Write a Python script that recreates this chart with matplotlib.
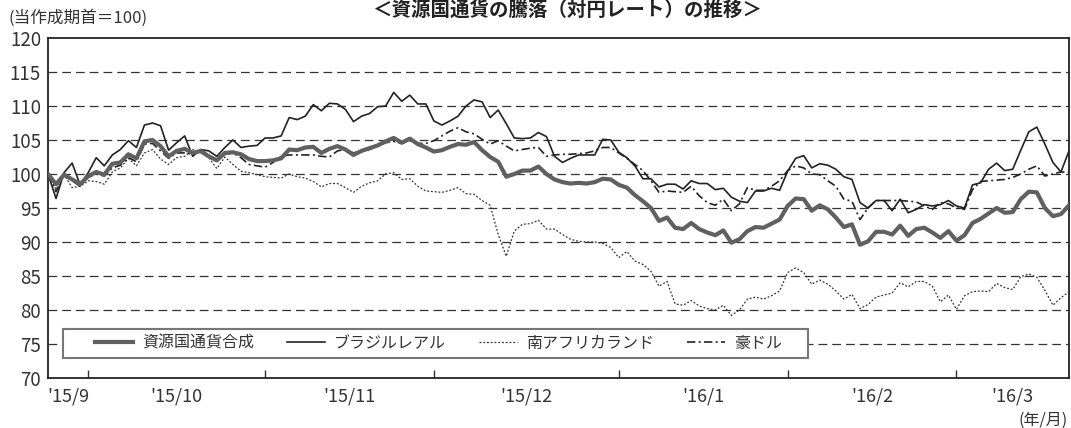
import numpy as np
import pandas as pd
import matplotlib
matplotlib.use("Agg")
import matplotlib.pyplot as plt
from matplotlib.patches import Rectangle

plt.rcParams['font.family'] = ['Noto Sans CJK JP', 'DejaVu Sans']

# business days from the start of the period
start_date = '2015-09-24'
end_date = '2016-03-21'
month_labels = ["'15/9", "'15/10", "'15/11", "'15/12", "'16/1", "'16/2", "'16/3"]

composite = [
    100.0, 98.5, 99.9, 99.2, 98.5, 99.7, 100.3, 99.9, 101.5, 101.7,
    102.9, 102.3, 104.8, 105.0, 104.1, 102.6, 103.4, 103.7, 103.1, 103.4,
    102.6, 102.0, 103.1, 103.2, 102.9, 102.2, 101.9, 101.9, 102.0, 102.3,
    103.6, 103.5, 103.9, 104.0, 103.1, 103.7, 104.1, 103.6, 102.8, 103.4,
    103.8, 104.2, 104.8, 105.3, 104.6, 105.2, 104.4, 103.9, 103.3, 103.5,
    104.0, 104.4, 104.3, 104.7, 103.5, 102.5, 101.8, 99.6, 100.0, 100.5,
    100.5, 101.1, 100.0, 99.2, 98.8, 98.6, 98.7, 98.6, 98.8, 99.3,
    99.2, 98.4, 98.0, 96.9, 96.0, 95.0, 93.1, 93.6, 92.1, 91.9,
    92.8, 91.9, 91.4, 91.0, 91.7, 89.9, 90.4, 91.6, 92.2, 92.1,
    92.7, 93.3, 95.3, 96.4, 96.3, 94.6, 95.4, 94.8, 93.6, 92.2,
    92.6, 89.6, 90.1, 91.5, 91.5, 91.1, 92.4, 90.9, 91.9, 92.1,
    91.4, 90.6, 91.6, 90.2, 91.0, 92.8, 93.4, 94.2, 95.0, 94.3,
    94.4, 96.3, 97.4, 97.3, 95.0, 93.8, 94.1, 95.4,
]
brazil = [
    100.0, 96.4, 100.2, 101.6, 98.4, 100.2, 102.4, 101.2, 102.8, 103.6,
    104.9, 103.9, 107.2, 107.5, 107.1, 103.5, 104.6, 105.6, 102.6, 103.6,
    103.4, 102.6, 103.9, 105.0, 103.9, 104.1, 104.2, 105.3, 105.3, 105.6,
    108.3, 108.0, 108.5, 110.2, 109.3, 110.4, 110.3, 109.5, 107.7, 108.5,
    108.9, 109.9, 110.0, 112.0, 110.7, 111.6, 110.3, 110.3, 107.8, 107.2,
    107.8, 108.5, 110.0, 110.9, 110.6, 108.3, 109.4, 107.4, 105.3, 105.2,
    105.3, 106.1, 105.5, 102.6, 101.7, 102.3, 102.8, 102.8, 102.8, 105.1,
    105.0, 103.2, 102.4, 101.2, 99.3, 99.3, 98.1, 98.5, 98.5, 97.8,
    99.0, 98.6, 98.6, 97.7, 97.9, 96.6, 96.0, 95.8, 97.5, 97.5,
    97.9, 97.6, 100.4, 102.3, 102.7, 100.9, 101.5, 101.3, 100.7, 99.6,
    99.2, 95.8, 95.0, 96.1, 96.1, 94.6, 96.3, 94.3, 94.8, 95.5,
    95.3, 95.5, 96.1, 95.3, 95.0, 98.4, 98.7, 100.7, 101.6, 100.5,
    100.7, 103.5, 106.2, 106.9, 104.4, 101.7, 100.3, 103.4,
]
rand = [
    100.0, 97.7, 99.9, 98.0, 98.2, 99.0, 98.9, 98.5, 100.3, 100.9,
    102.3, 101.2, 103.1, 103.6, 102.2, 101.4, 102.4, 102.6, 103.6, 103.1,
    102.4, 100.8, 102.5, 101.4, 100.4, 100.2, 99.9, 99.6, 99.5, 99.4,
    100.0, 99.6, 99.4, 98.9, 98.1, 98.6, 98.6, 98.0, 97.3, 98.2,
    98.7, 99.0, 100.0, 100.2, 99.2, 99.3, 98.2, 97.5, 97.4, 97.3,
    97.6, 98.0, 97.1, 97.0, 96.1, 95.4, 91.1, 87.9, 91.6, 92.6,
    92.7, 93.2, 91.9, 91.9, 91.1, 90.4, 90.1, 90.0, 90.0, 89.8,
    89.2, 87.7, 88.6, 87.2, 86.7, 85.7, 83.5, 84.2, 80.9, 80.7,
    81.4, 80.6, 80.2, 80.0, 80.7, 79.2, 80.0, 81.6, 81.9, 81.6,
    82.1, 82.8, 85.5, 86.2, 85.5, 83.8, 84.4, 83.8, 82.8, 81.6,
    82.3, 80.2, 80.8, 81.9, 82.2, 82.5, 84.0, 83.4, 84.2, 84.2,
    83.5, 81.2, 82.2, 80.1, 82.1, 82.7, 82.8, 82.7, 83.9, 83.3,
    83.0, 84.9, 85.3, 84.8, 82.9, 80.7, 81.8, 82.7,
]
aud = [
    100.0, 97.4, 100.0, 99.0, 98.2, 99.5, 100.0, 99.7, 100.9, 101.3,
    102.4, 101.8, 104.4, 104.5, 103.4, 102.3, 103.1, 103.1, 102.9, 103.3,
    102.6, 102.2, 102.9, 103.1, 102.4, 101.4, 101.2, 101.0, 101.7, 102.6,
    102.8, 102.8, 102.8, 102.8, 102.6, 102.5, 103.4, 103.6, 103.1, 103.4,
    103.6, 104.1, 104.6, 104.8, 104.5, 104.9, 104.5, 104.5, 104.9, 105.6,
    106.3, 106.8, 106.2, 105.9, 105.1, 104.4, 104.9, 104.1, 103.4, 103.6,
    103.8, 103.9, 102.6, 102.8, 102.9, 102.9, 103.0, 103.1, 103.4, 103.9,
    103.9, 103.1, 102.3, 101.4, 100.5, 99.0, 97.3, 97.5, 97.4, 97.3,
    98.2, 96.8, 95.8, 95.4, 96.3, 94.6, 95.6, 98.0, 97.6, 97.6,
    98.2, 99.0, 100.5, 101.2, 100.9, 100.0, 99.9, 99.0, 98.2, 96.3,
    96.0, 93.3, 95.0, 96.1, 96.1, 96.1, 96.1, 96.0, 95.9, 95.3,
    94.8, 95.8, 95.6, 95.0, 94.8, 97.7, 98.9, 99.0, 99.1, 99.2,
    99.5, 100.0, 100.7, 101.2, 99.7, 100.0, 100.3, 100.3,
]

dates = pd.bdate_range(start_date, end_date)
x = np.arange(len(dates))

# month boundaries (index of first business day of each month)
month_id = dates.year * 12 + dates.month
bounds = [i for i in range(1, len(dates)) if month_id[i] != month_id[i - 1]]
edges = [0] + bounds + [len(dates) - 1]
centers = [(edges[k] + edges[k + 1]) / 2 for k in range(len(edges) - 1)]

fig = plt.figure(figsize=(10.71, 4.28), dpi=100)
ax = fig.add_axes([48 / 1071, 1 - 378 / 428, 1021 / 1071, 340 / 428])

for yv in range(75, 120, 5):
    ax.axhline(yv, color='#333333', lw=0.9, ls=(0, (7, 4)), zorder=1)

l1, = ax.plot(x, composite, color='#606060', lw=3.0, zorder=5, solid_joinstyle='round')
l2, = ax.plot(x, brazil, color='#222222', lw=1.2, zorder=4)
l3, = ax.plot(x, rand, color='#333333', lw=0.9, ls=(0, (1.5, 1.5)), zorder=3)
l4, = ax.plot(x, aud, color='#222222', lw=1.2, ls=(0, (5, 2, 1.2, 2)), zorder=3)

ax.set_xlim(0, len(dates) - 1)
ax.set_ylim(70, 120)
ax.set_yticks(range(70, 121, 5))
ax.tick_params(axis='y', length=0, pad=5, labelsize=13.5, labelcolor='#333333')

ax.set_xticks(bounds)
ax.set_xticklabels([])
ax.set_xticks(centers, minor=True)
ax.set_xticklabels(month_labels, minor=True)
ax.tick_params(axis='x', which='major', direction='in', length=5.5, width=1.0, color='#333333')
ax.tick_params(axis='x', which='minor', length=0, pad=7, labelsize=13, labelcolor='#333333')

for s in ax.spines.values():
    s.set_linewidth(1.3)
    s.set_color('#222222')

# legend box drawn separately so the inner spacing matches
box = Rectangle((15 / 1021, 0.0588), 745 / 1021, 0.0853, transform=ax.transAxes,
                facecolor='white', edgecolor='#777777', lw=1.5, zorder=9)
ax.add_patch(box)
leg = ax.legend([l1, l2, l3, l4], ['資源国通貨合成', 'ブラジルレアル', '南アフリカランド', '豪ドル'],
                ncol=4, loc='center left', bbox_to_anchor=(47 / 1021, 0.1015),
                fontsize=11.5, handlelength=2.4, handletextpad=0.55, columnspacing=2.05,
                borderaxespad=0, borderpad=0, frameon=False)
leg.set_zorder(10)
for t in leg.get_texts():
    t.set_color('#333333')

fig.text(9 / 1071, 1 - 18 / 428, '(当作成期首＝100)', fontsize=12, color='#333333', va='center', ha='left')
fig.text(1068 / 1071, 1 - 420 / 428, '(年/月)', fontsize=11.5, color='#333333', va='center', ha='right')
fig.text(567 / 1071, 1.0, '＜資源国通貨の騰落（対円レート）の推移＞', fontsize=14,
         fontweight='bold', color='#222222', va='top', ha='center')

fig.savefig('out.png', dpi=100)
